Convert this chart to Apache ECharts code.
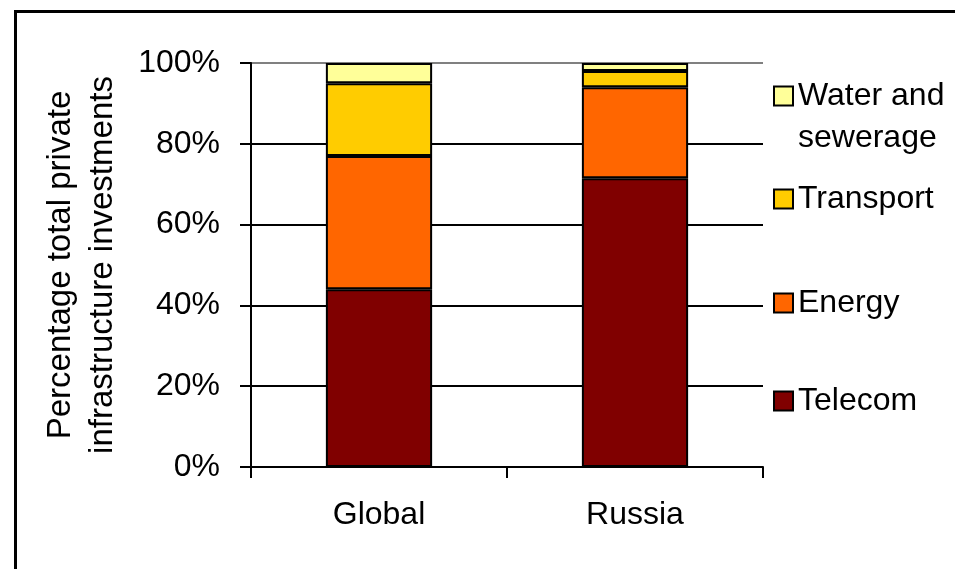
<!DOCTYPE html>
<html>
<head>
<meta charset="utf-8">
<script src="https://cdn.jsdelivr.net/npm/echarts@6/dist/echarts.min.js"></script>
<style>
  html, body { margin: 0; padding: 0; background: #fff; }
  #chart { width: 955px; height: 569px; }
</style>
</head>
<body>
<div id="chart"></div>
<script>
// data (percent of total)
const categories = ['Global', 'Russia'];
const telecom = [44, 71.5];
const energy = [33, 22.5];
const transport = [18, 4];
const water = [5, 2];
const yTicks = [0, 20, 40, 60, 80, 100];

const FONT = '"Liberation Sans", Arial, sans-serif';

const seriesDefs = [
    { name: 'Telecom', values: telecom, color: '#800000' },
    { name: 'Energy', values: energy, color: '#ff6600' },
    { name: 'Transport', values: transport, color: '#ffcc00' },
    { name: 'Water and sewerage', values: water, color: '#ffff99' },
];

// one small legend per entry so the rows can be spaced like the original
// (uneven gaps, two-line label for water with the box on its first line)
const legendTops = { 'Water and sewerage': 28, 'Transport': 173, 'Energy': 277, 'Telecom': 375 };

const chart = echarts.init(document.getElementById('chart'), null, { renderer: 'canvas' });

chart.setOption({
    animation: false,
    backgroundColor: '#fff',
    textStyle: { fontFamily: FONT },
    graphic: [{
        type: 'rect',
        left: 13, top: 9, z: -1,
        shape: { width: 1000, height: 620 },
        style: { fill: 'none', stroke: '#000', lineWidth: 3 },
        silent: true,
    }],
    grid: { left: 251, right: 192, top: 63, bottom: 102, containLabel: false },
    legend: seriesDefs.slice().reverse().map(s => ({
        data: [s.name],
        orient: 'vertical',
        left: 768,
        top: legendTops[s.name],
        icon: 'rect',
        itemWidth: 19,
        itemHeight: 19,
        itemGap: 0,
        selectedMode: false,
        itemStyle: { borderColor: '#000', borderWidth: 2 },
        // leading empty line keeps the box level with "Water and"
        formatter: name => name === 'Water and sewerage' ? '\nWater and\nsewerage' : name,
        textStyle: { fontFamily: FONT, fontSize: 32, color: '#000', lineHeight: 42 },
    })),
    xAxis: {
        type: 'category',
        data: categories,
        axisLine: { lineStyle: { color: '#000', width: 2 } },
        axisTick: { show: true, length: 11, lineStyle: { color: '#000', width: 2 } },
        axisLabel: { color: '#000', fontSize: 32, fontFamily: FONT, margin: 32 },
    },
    yAxis: {
        type: 'value',
        min: 0, max: 100, interval: 20,
        name: 'Percentage total private\ninfrastructure investments',
        nameLocation: 'middle',
        nameGap: 127,
        nameTextStyle: { color: '#000', fontSize: 33, fontFamily: FONT, lineHeight: 42 },
        axisLine: { show: true, lineStyle: { color: '#000', width: 2 } },
        axisTick: { show: true, length: 11, lineStyle: { color: '#000', width: 2 } },
        axisLabel: {
            color: '#000', fontSize: 32, fontFamily: FONT, margin: 31,
            formatter: v => yTicks.includes(v) ? v + '%' : '',
        },
        splitLine: {
            show: true,
            lineStyle: { color: ['#000', '#000', '#000', '#000', '#000', '#808080'], width: 2 },
        },
    },
    series: seriesDefs.map(s => ({
        type: 'bar',
        name: s.name,
        stack: 'total',
        data: s.values,
        barWidth: '41.5%',
        itemStyle: { color: s.color, borderColor: '#000', borderWidth: 2 },
    })),
});
</script>
</body>
</html>
